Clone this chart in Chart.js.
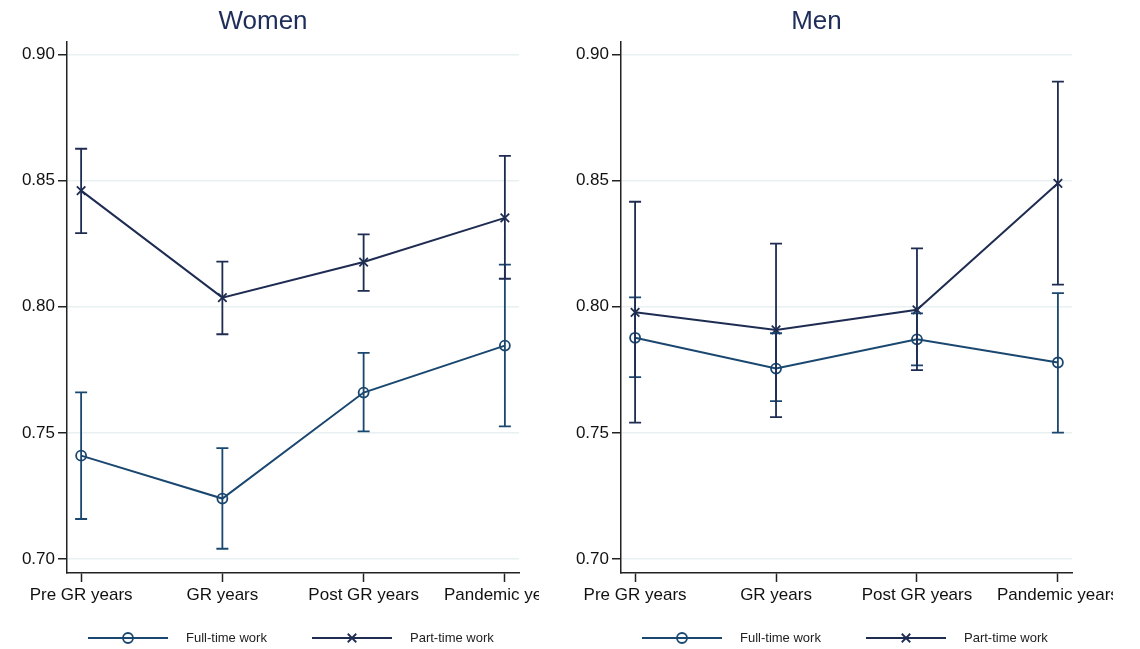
<!DOCTYPE html>
<html>
<head>
<meta charset="utf-8">
<script src="https://cdn.jsdelivr.net/npm/chart.js@4/dist/chart.umd.min.js"></script>
<style>
    body { margin: 0; background: #ffffff; }
    .panel { position: absolute; top: 0; }
    #women-graph { left: 0; }
    #men-graph { left: 560px; }
</style>
</head>
<body>
<canvas id="women-graph" class="panel" width="539" height="649"></canvas>
<canvas id="men-graph" class="panel" width="553" height="649"></canvas>
<script>
// =========================================================
// DATA
// =========================================================

const CATEGORIES = ["Pre GR years", "GR years", "Post GR years", "Pandemic years"];
const Y_TICKS = [0.70, 0.75, 0.80, 0.85, 0.90];

const SERIES_NAMES = ["Full-time work", "Part-time work"];

//women
const womenFull = [0.741, 0.724, 0.766, 0.7846];
const womenFullLow = [0.7159, 0.7041, 0.7506, 0.7526];
const womenFullHigh = [0.7661, 0.744, 0.7817, 0.8167];

const womenPart = [0.846, 0.8036, 0.8177, 0.8352];
const womenPartLow = [0.8292, 0.7891, 0.8063, 0.8111];
const womenPartHigh = [0.8626, 0.8179, 0.8287, 0.8598];

//men
const menFull = [0.7877, 0.7755, 0.7871, 0.7779];
const menFullLow = [0.7721, 0.7626, 0.7768, 0.7501];
const menFullHigh = [0.8037, 0.7895, 0.7974, 0.8054];

const menPart = [0.7978, 0.7908, 0.7988, 0.8489];
const menPartLow = [0.7541, 0.7563, 0.7749, 0.8088];
const menPartHigh = [0.8416, 0.825, 0.8231, 0.8892];

// =========================================================
// STYLE
// =========================================================

const FONT_FAMILY = "'Liberation Sans', Arial, Helvetica, sans-serif";
const FULL_COLOR = "#1a476f";
const PART_COLOR = "#1f2c52";
const TITLE_COLOR = "#1e2d5a";
const AXIS_COLOR = "#222222";
const GRID_COLOR = "#e9f0f1";

// =========================================================
// PLUGINS
// =========================================================

const errorBarPlugin = {
    id: "errorBars",
    afterDatasetsDraw(chart) {
        const ctx = chart.ctx;
        const xScale = chart.scales.x;
        const yScale = chart.scales.y;

        chart.data.datasets.forEach(function (dataset) {
            ctx.save();
            ctx.strokeStyle = dataset.borderColor;
            ctx.lineWidth = 1.8;
            ctx.beginPath();

            for (let index = 0; index < dataset.data.length; index++) {
                const x = xScale.getPixelForValue(dataset.data[index].x);
                const yLow = yScale.getPixelForValue(dataset.errorLow[index]);
                const yHigh = yScale.getPixelForValue(dataset.errorHigh[index]);

                ctx.moveTo(x, yLow);
                ctx.lineTo(x, yHigh);
                ctx.moveTo(x - 6, yLow);
                ctx.lineTo(x + 6, yLow);
                ctx.moveTo(x - 6, yHigh);
                ctx.lineTo(x + 6, yHigh);
            }

            ctx.stroke();
            ctx.restore();
        });
    }
};

const panelTitlePlugin = {
    id: "panelTitle",
    afterDraw(chart, args, options) {
        const ctx = chart.ctx;
        const area = chart.chartArea;

        ctx.save();
        ctx.font = "26px " + FONT_FAMILY;
        ctx.fillStyle = TITLE_COLOR;
        ctx.textAlign = "center";
        ctx.textBaseline = "middle";
        ctx.fillText(options.text, (area.left + area.right) / 2 - 30, 22);
        ctx.restore();
    }
};

const lineLegendPlugin = {
    id: "lineLegend",
    afterDraw(chart) {
        const ctx = chart.ctx;
        const area = chart.chartArea;
        const y = 638;

        chart.data.datasets.forEach(function (dataset, index) {
            const start = area.left + 21 + index * 224;

            ctx.save();
            ctx.strokeStyle = dataset.borderColor;
            ctx.lineWidth = 2;
            ctx.beginPath();
            ctx.moveTo(start, y);
            ctx.lineTo(start + 80, y);
            ctx.stroke();

            ctx.fillStyle = "rgba(0,0,0,0)";
            ctx.lineWidth = dataset.pointBorderWidth;
            Chart.helpers.drawPoint(ctx, {
                pointStyle: dataset.pointStyle,
                radius: dataset.pointRadius,
                borderWidth: dataset.pointBorderWidth,
                rotation: 0
            }, start + 40, y);

            ctx.fillStyle = "#222222";
            ctx.font = "13px " + FONT_FAMILY;
            ctx.textAlign = "left";
            ctx.textBaseline = "middle";
            ctx.fillText(dataset.label, start + 98, y);
            ctx.restore();
        });
    }
};

// =========================================================
// CHARTS
// =========================================================

function toPoints(values) {
    return values.map(function (value, index) {
        return { x: index, y: value };
    });
}

function createSeries(label, values, low, high, color, pointStyle, radius) {
    return {
        label: label,
        data: toPoints(values),
        errorLow: low,
        errorHigh: high,
        borderColor: color,
        borderWidth: 2,
        pointStyle: pointStyle,
        pointRadius: radius,
        pointBorderWidth: 1.8,
        pointBorderColor: color,
        pointBackgroundColor: "rgba(0,0,0,0)",
        fill: false,
        tension: 0
    };
}

function createPanelChart(canvas, title, series, axisWidth, rightPadding) {
    return new Chart(canvas, {
        type: "line",
        data: {
            datasets: series
        },
        plugins: [errorBarPlugin, panelTitlePlugin, lineLegendPlugin],
        options: {
            responsive: false,
            devicePixelRatio: 1,
            animation: false,
            layout: {
                padding: {
                    top: 42,
                    right: rightPadding,
                    left: 0,
                    bottom: 0
                }
            },
            scales: {
                x: {
                    type: "linear",
                    min: -0.1,
                    max: 3.1,
                    afterBuildTicks: function (scale) {
                        scale.ticks = CATEGORIES.map(function (name, index) {
                            return { value: index };
                        });
                    },
                    afterFit: function (scale) {
                        scale.height = 76;
                        scale.paddingLeft = 0;
                        scale.paddingRight = 0;
                    },
                    ticks: {
                        callback: function (value) {
                            return CATEGORIES[value];
                        },
                        autoSkip: false,
                        maxRotation: 0,
                        padding: 3,
                        color: "#111111",
                        font: {
                            family: FONT_FAMILY,
                            size: 17
                        }
                    },
                    grid: {
                        drawOnChartArea: false,
                        tickLength: 9,
                        tickColor: AXIS_COLOR,
                        tickWidth: 1.5
                    },
                    border: {
                        color: AXIS_COLOR,
                        width: 1.5
                    }
                },
                y: {
                    min: 0.6945,
                    max: 0.9049,
                    afterBuildTicks: function (scale) {
                        scale.ticks = Y_TICKS.map(function (value) {
                            return { value: value };
                        });
                    },
                    afterFit: function (scale) {
                        scale.width = axisWidth;
                        scale.paddingTop = 0;
                        scale.paddingBottom = 0;
                    },
                    ticks: {
                        callback: function (value) {
                            return value.toFixed(2);
                        },
                        padding: 3,
                        color: "#111111",
                        font: {
                            family: FONT_FAMILY,
                            size: 17
                        }
                    },
                    grid: {
                        color: GRID_COLOR,
                        lineWidth: 1.5,
                        tickLength: 9,
                        tickColor: AXIS_COLOR,
                        tickWidth: 1.5
                    },
                    border: {
                        color: AXIS_COLOR,
                        width: 1.5
                    }
                }
            },
            plugins: {
                legend: {
                    display: false
                },
                tooltip: {
                    enabled: false
                },
                panelTitle: {
                    text: title
                }
            }
        }
    });
}

createPanelChart(document.getElementById("women-graph"), "Women", [
    createSeries(SERIES_NAMES[0], womenFull, womenFullLow, womenFullHigh, FULL_COLOR, "circle", 5),
    createSeries(SERIES_NAMES[1], womenPart, womenPartLow, womenPartHigh, PART_COLOR, "crossRot", 6)
], 67, 20);

createPanelChart(document.getElementById("men-graph"), "Men", [
    createSeries(SERIES_NAMES[0], menFull, menFullLow, menFullHigh, FULL_COLOR, "circle", 5),
    createSeries(SERIES_NAMES[1], menPart, menPartLow, menPartHigh, PART_COLOR, "crossRot", 6)
], 61, 41);
</script>
</body>
</html>
